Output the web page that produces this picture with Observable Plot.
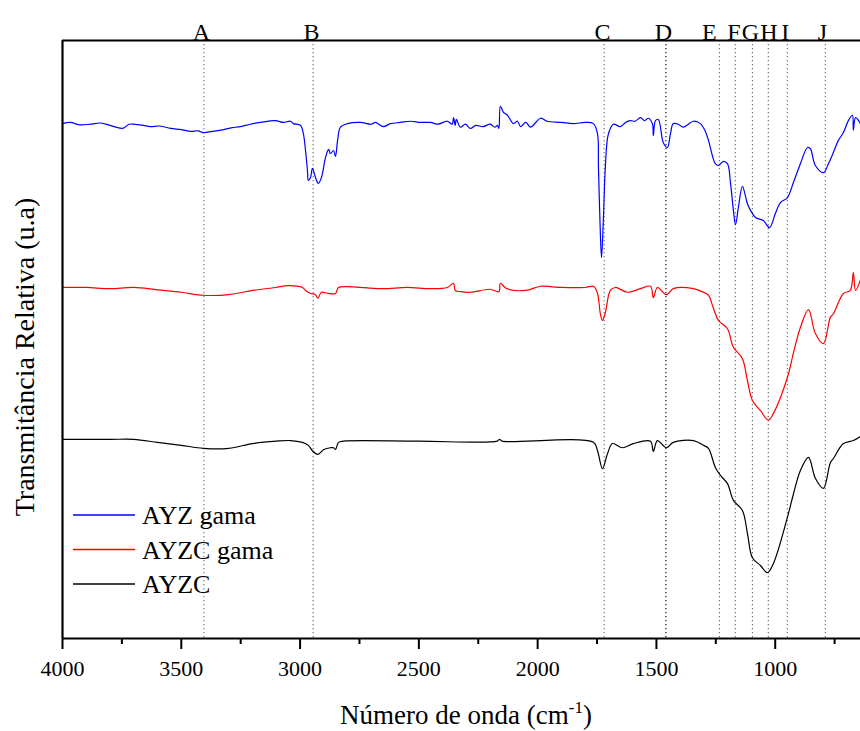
<!DOCTYPE html>
<html><head><meta charset="utf-8">
<script src="https://cdn.jsdelivr.net/npm/d3@7"></script>
<script src="https://cdn.jsdelivr.net/npm/@observablehq/plot@0.6"></script>
<style>body{margin:0;background:#fff}</style>
</head><body><div id="chart"></div>
<script>
// ---- data (wavenumber cm-1, relative transmittance a.u.) ----
const wnTicks = [4000, 3500, 3000, 2500, 2000, 1500, 1000];
const minorTicks = [3750, 3250, 2750, 2250, 1750, 1250, 750];
const peakLabels = ["A", "B", "C", "D", "E", "F", "G", "H", "I", "J"];
const peakWn = [3405, 2945, 1720, 1460, 1235, 1168, 1096, 1029, 949, 789];
const labelWn = [3415, 2952, 1727, 1471, 1277, 1174, 1104, 1027, 958, 801];
const seriesNames = ["AYZ gama", "AYZC gama", "AYZC"];
const seriesColors = ["#0000ff", "#ff0000", "#000000"];

const ayzGama = [[4000,86.1],[3966,86.3],[3930,85.9],[3882,86.0],[3840,86.2],[3800,85.8],[3747,85.3],[3720,86.0],[3701,86.0],[3660,85.8],[3630,85.6],[3590,85.7],[3545,85.3],[3500,85.1],[3461,84.8],[3430,84.9],[3407,84.6],[3370,84.8],[3335,85.0],[3290,85.4],[3251,85.6],[3210,86.0],[3167,86.3],[3104,86.6],[3070,86.3],[3040,86.5],[3028,86.1],[2998,85.8],[2986,84.4],[2977,81.6],[2969,78.3],[2965,76.6],[2956,77.1],[2948,78.6],[2935,77.1],[2923,76.1],[2910,77.1],[2893,80.4],[2880,81.8],[2872,81.1],[2859,81.6],[2851,80.6],[2842,83.3],[2830,85.5],[2800,86.1],[2746,86.3],[2700,86.0],[2683,86.3],[2649,85.6],[2620,86.1],[2578,86.3],[2535,86.5],[2493,86.3],[2451,86.3],[2420,86.0],[2380,86.5],[2360,86.0],[2354,87.1],[2347,85.8],[2342,86.8],[2325,85.5],[2304,86.0],[2283,85.3],[2260,85.8],[2230,85.6],[2200,86.0],[2180,85.5],[2169,85.8],[2163,85.3],[2157,89.0],[2144,88.0],[2127,87.5],[2102,86.1],[2085,86.5],[2072,85.6],[2050,86.3],[2030,85.5],[2010,86.2],[1988,87.0],[1960,86.5],[1900,86.3],[1850,86.1],[1800,86.3],[1765,86.1],[1748,84.4],[1744,78.8],[1736,67.7],[1731,63.7],[1723,70.4],[1715,78.8],[1702,84.4],[1681,86.0],[1652,85.6],[1630,86.3],[1610,86.6],[1590,86.5],[1567,87.1],[1550,86.6],[1534,87.0],[1517,86.1],[1513,84.1],[1504,86.6],[1492,86.8],[1471,82.9],[1454,82.1],[1441,84.4],[1429,86.1],[1408,86.0],[1387,85.5],[1344,86.5],[1315,86.1],[1294,84.8],[1281,83.3],[1252,79.4],[1239,79.1],[1218,79.8],[1201,79.4],[1188,76.1],[1176,71.6],[1167,69.2],[1155,72.1],[1138,75.6],[1117,72.7],[1104,71.6],[1083,70.4],[1050,69.9],[1024,68.7],[999,71.1],[978,72.9],[949,73.7],[923,76.3],[894,79.4],[864,82.1],[852,81.9],[831,79.1],[797,77.9],[776,79.4],[755,81.3],[734,83.3],[713,84.6],[692,86.6],[675,87.5],[671,85.0],[662,87.1],[641,86.1]];

const ayzcGama = [[4000,58.7],[3900,58.7],[3800,58.5],[3700,58.7],[3600,58.3],[3500,57.9],[3407,57.4],[3300,57.5],[3200,58.2],[3104,58.7],[3050,59.0],[2990,58.7],[2977,58.2],[2956,57.7],[2935,57.5],[2925,56.9],[2910,57.9],[2880,57.7],[2851,57.7],[2838,58.7],[2750,58.7],[2650,58.5],[2550,58.7],[2451,58.5],[2380,58.7],[2354,59.4],[2347,58.2],[2325,58.0],[2283,57.9],[2200,58.4],[2163,58.0],[2157,59.4],[2130,58.5],[2050,58.2],[1988,58.9],[1900,58.7],[1800,58.7],[1765,58.9],[1748,57.7],[1736,54.3],[1727,53.2],[1715,54.5],[1694,58.2],[1673,58.7],[1622,57.9],[1567,58.5],[1525,58.9],[1513,57.0],[1496,58.7],[1458,57.5],[1429,58.5],[1344,58.5],[1302,57.9],[1281,57.4],[1260,55.2],[1239,53.2],[1201,51.8],[1176,48.7],[1138,46.8],[1117,43.1],[1096,39.8],[1062,38.1],[1029,36.5],[1008,37.6],[949,43.6],[923,47.8],[894,52.0],[860,55.0],[831,51.0],[797,49.3],[768,53.7],[755,54.3],[713,57.7],[684,58.2],[671,61.2],[662,58.2],[641,60.0]];

const ayzc = [[4000,33.3],[3800,33.3],[3700,33.3],[3600,32.8],[3500,32.3],[3407,31.8],[3300,31.8],[3200,32.6],[3100,33.0],[3040,33.1],[2990,32.8],[2965,32.3],[2948,31.4],[2925,30.8],[2900,31.6],[2872,31.9],[2859,31.9],[2851,31.6],[2838,32.8],[2817,33.0],[2500,33.0],[2170,33.0],[2160,33.3],[2150,33.0],[1765,32.8],[1748,31.4],[1727,28.4],[1706,30.9],[1685,32.6],[1643,31.9],[1597,32.6],[1525,33.0],[1513,31.3],[1496,33.1],[1458,31.9],[1429,32.8],[1344,33.1],[1302,32.3],[1281,31.8],[1252,28.6],[1231,27.3],[1201,25.9],[1176,23.1],[1138,21.4],[1117,17.6],[1096,13.5],[1062,12.2],[1033,11.0],[1008,12.5],[949,20.2],[923,24.2],[894,28.1],[860,30.3],[831,26.8],[797,25.1],[768,29.4],[755,30.1],[713,32.6],[671,33.1],[641,33.8]];

// ---- build ----
const font = "'Liberation Serif','Times New Roman',serif";
const seriesData = [ayzGama, ayzcGama, ayzc];
const rows = seriesData.flatMap((arr, k) => arr.map(([wn, t]) => ({wn, t, name: seriesNames[k]})));
const peaks = peakLabels.map((label, i) => ({label, wn: peakWn[i], lwn: labelWn[i]}));

const W = 860, H = 731, mL = 62, mR = 0, mT = 40, mB = 93;

const chart = Plot.plot({
  width: W, height: H,
  marginLeft: mL, marginRight: mR, marginTop: mT, marginBottom: mB,
  style: {fontFamily: font, background: "#fff", color: "#000", overflow: "visible"},
  x: {domain: [4000, 641]},
  y: {domain: [0, 100], axis: null},
  color: {domain: seriesNames, range: seriesColors},
  marks: [
    Plot.ruleX(peaks, {x: "wn", stroke: d => d.label === "D" ? "#000" : "#666", strokeDasharray: "1.3,2.7", strokeWidth: 1.1}),
    Plot.line(rows, {x: "wn", y: "t", z: "name", stroke: "name", strokeWidth: 1.2, curve: "catmull-rom"}),
    Plot.axisX(minorTicks, {tickSize: 6, tickFormat: () => "", label: null, strokeWidth: 2}),
    Plot.axisX(wnTicks, {tickSize: 11, tickPadding: 11, fontSize: 22, label: null, strokeWidth: 2, tickFormat: d => String(d)}),
    Plot.ruleY([0, 100], {strokeWidth: 2.2}),
    Plot.ruleX([4000], {strokeWidth: 2.2}),
    Plot.text(peaks, {x: "lwn", text: "label", frameAnchor: "top", lineAnchor: "bottom", fontSize: 24, dy: -1})
  ]
});
document.getElementById("chart").appendChild(chart);

// titles and legend
const svg = d3.select(chart);
const xt = svg.append("text").attr("x", 466).attr("y", 724).attr("text-anchor", "middle")
  .attr("font-family", font).attr("font-size", 27).attr("fill", "#000");
xt.append("tspan").text("Número de onda (cm");
xt.append("tspan").attr("dy", -11).attr("font-size", 17).text("-1");
xt.append("tspan").attr("dy", 11).text(")");

svg.append("text").attr("transform", "translate(34,357) rotate(-90)").attr("text-anchor", "middle")
  .attr("font-family", font).attr("font-size", 28).attr("fill", "#000")
  .text("Transmitância Relativa (u.a)");

const lg = svg.append("g").attr("transform", "translate(73,515)");
seriesNames.forEach((name, i) => {
  const g = lg.append("g").attr("transform", `translate(0,${i * 34.5})`);
  g.append("line").attr("x1", 0).attr("x2", 62).attr("y1", 0).attr("y2", 0)
    .attr("stroke", seriesColors[i]).attr("stroke-width", 1.3);
  g.append("text").attr("x", 69).attr("y", 9).attr("text-anchor", "start")
    .attr("font-family", font).attr("font-size", 26)
    .attr("fill", "#000").text(name);
});
</script>
</body></html>
